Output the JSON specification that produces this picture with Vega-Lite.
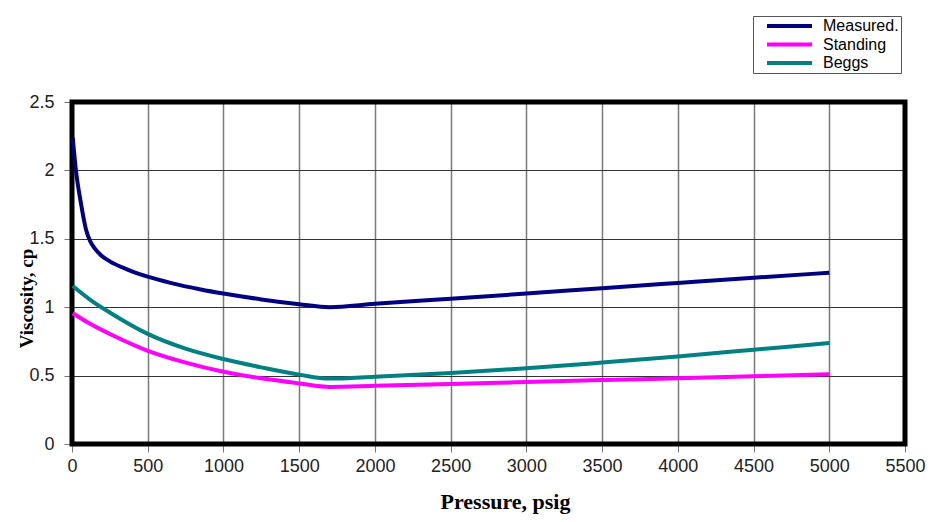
{
  "$schema": "https://vega.github.io/schema/vega-lite/v6.json",
  "width": 833,
  "height": 342,
  "autosize": {"type": "none"},
  "padding": {"left": 72, "top": 102, "right": 30, "bottom": 78},
  "background": "white",
  "config": {
    "view": {"stroke": null},
    "axis": {
      "labelFont": "Liberation Sans",
      "labelFontSize": 18,
      "labelColor": "#222222",
      "titleFont": "Liberation Serif",
      "titleFontWeight": "bold",
      "titleColor": "#000000",
      "domain": false,
      "tickColor": "#777777",
      "tickSize": 8,
      "tickWidth": 1
    }
  },
  "layer": [
    {
      "data": {"values": [{"x0": 0, "x1": 5500, "y0": 0, "y1": 2.5}]},
      "mark": {"type": "rect", "fill": null, "stroke": "#000000", "strokeWidth": 5},
      "encoding": {
        "x": {"field": "x0", "type": "quantitative"},
        "x2": {"field": "x1"},
        "y": {"field": "y0", "type": "quantitative"},
        "y2": {"field": "y1"}
      }
    },
    {
      "data": {
        "values": [
          {"pressure": 5, "viscosity": 2.24, "series": "Measured."},
          {"pressure": 26, "viscosity": 2.0, "series": "Measured."},
          {"pressure": 59, "viscosity": 1.76, "series": "Measured."},
          {"pressure": 92, "viscosity": 1.57, "series": "Measured."},
          {"pressure": 121, "viscosity": 1.48, "series": "Measured."},
          {"pressure": 150, "viscosity": 1.43, "series": "Measured."},
          {"pressure": 191, "viscosity": 1.38, "series": "Measured."},
          {"pressure": 250, "viscosity": 1.335, "series": "Measured."},
          {"pressure": 367, "viscosity": 1.275, "series": "Measured."},
          {"pressure": 500, "viscosity": 1.223, "series": "Measured."},
          {"pressure": 650, "viscosity": 1.178, "series": "Measured."},
          {"pressure": 850, "viscosity": 1.13, "series": "Measured."},
          {"pressure": 1000, "viscosity": 1.1, "series": "Measured."},
          {"pressure": 1250, "viscosity": 1.057, "series": "Measured."},
          {"pressure": 1500, "viscosity": 1.022, "series": "Measured."},
          {"pressure": 1700, "viscosity": 1.0, "series": "Measured."},
          {"pressure": 2000, "viscosity": 1.025, "series": "Measured."},
          {"pressure": 2500, "viscosity": 1.062, "series": "Measured."},
          {"pressure": 3000, "viscosity": 1.1, "series": "Measured."},
          {"pressure": 3500, "viscosity": 1.139, "series": "Measured."},
          {"pressure": 4000, "viscosity": 1.177, "series": "Measured."},
          {"pressure": 4500, "viscosity": 1.215, "series": "Measured."},
          {"pressure": 5000, "viscosity": 1.252, "series": "Measured."},
          {"pressure": 5, "viscosity": 0.956, "series": "Standing"},
          {"pressure": 125, "viscosity": 0.875, "series": "Standing"},
          {"pressure": 257, "viscosity": 0.8, "series": "Standing"},
          {"pressure": 500, "viscosity": 0.681, "series": "Standing"},
          {"pressure": 750, "viscosity": 0.595, "series": "Standing"},
          {"pressure": 1000, "viscosity": 0.528, "series": "Standing"},
          {"pressure": 1250, "viscosity": 0.48, "series": "Standing"},
          {"pressure": 1500, "viscosity": 0.443, "series": "Standing"},
          {"pressure": 1700, "viscosity": 0.417, "series": "Standing"},
          {"pressure": 2000, "viscosity": 0.425, "series": "Standing"},
          {"pressure": 2500, "viscosity": 0.439, "series": "Standing"},
          {"pressure": 3000, "viscosity": 0.453, "series": "Standing"},
          {"pressure": 3500, "viscosity": 0.467, "series": "Standing"},
          {"pressure": 4000, "viscosity": 0.481, "series": "Standing"},
          {"pressure": 4500, "viscosity": 0.495, "series": "Standing"},
          {"pressure": 5000, "viscosity": 0.509, "series": "Standing"},
          {"pressure": 5, "viscosity": 1.155, "series": "Beggs"},
          {"pressure": 125, "viscosity": 1.05, "series": "Beggs"},
          {"pressure": 257, "viscosity": 0.956, "series": "Beggs"},
          {"pressure": 500, "viscosity": 0.805, "series": "Beggs"},
          {"pressure": 750, "viscosity": 0.697, "series": "Beggs"},
          {"pressure": 1000, "viscosity": 0.621, "series": "Beggs"},
          {"pressure": 1250, "viscosity": 0.56, "series": "Beggs"},
          {"pressure": 1500, "viscosity": 0.507, "series": "Beggs"},
          {"pressure": 1700, "viscosity": 0.478, "series": "Beggs"},
          {"pressure": 2000, "viscosity": 0.492, "series": "Beggs"},
          {"pressure": 2500, "viscosity": 0.519, "series": "Beggs"},
          {"pressure": 3000, "viscosity": 0.553, "series": "Beggs"},
          {"pressure": 3500, "viscosity": 0.595, "series": "Beggs"},
          {"pressure": 4000, "viscosity": 0.64, "series": "Beggs"},
          {"pressure": 4500, "viscosity": 0.689, "series": "Beggs"},
          {"pressure": 5000, "viscosity": 0.738, "series": "Beggs"}
        ]
      },
      "mark": {"type": "line", "strokeWidth": 4, "interpolate": "monotone"},
      "encoding": {
        "x": {
          "field": "pressure",
          "type": "quantitative",
          "scale": {"domain": [0, 5500], "nice": false},
          "axis": {
            "title": "Pressure, psig",
            "titleFontSize": 22,
            "titleX": 433,
            "titleY": 64,
            "titleAlign": "center",
            "titleBaseline": "alphabetic",
            "values": [0, 500, 1000, 1500, 2000, 2500, 3000, 3500, 4000, 4500, 5000, 5500],
            "format": "d",
            "labelPadding": 5,
            "labelFlush": false,
            "grid": true,
            "gridColor": "#7a7a7a",
            "gridWidth": 1.5
          }
        },
        "y": {
          "field": "viscosity",
          "type": "quantitative",
          "scale": {"domain": [0, 2.5], "nice": false},
          "axis": {
            "title": "Viscosity, cp",
            "titleFontSize": 19,
            "titleAngle": -90,
            "titleX": -46,
            "titleY": 196,
            "titleAlign": "center",
            "titleBaseline": "middle",
            "values": [0, 0.5, 1, 1.5, 2, 2.5],
            "format": "~g",
            "labelPadding": 10,
            "labelFlush": false,
            "grid": true,
            "gridColor": "#333333",
            "gridWidth": 1
          }
        },
        "color": {
          "field": "series",
          "type": "nominal",
          "sort": ["Measured.", "Standing", "Beggs"],
          "scale": {"domain": ["Measured.", "Standing", "Beggs"], "range": ["#000080", "#FF00FF", "#008080"]},
          "legend": {
            "title": null,
            "orient": "none",
            "legendX": 681,
            "legendY": -86,
            "symbolType": "stroke",
            "symbolSize": 2025,
            "symbolStrokeWidth": 4,
            "symbolOffset": 10,
            "labelOffset": 9,
            "labelFont": "Liberation Sans",
            "labelFontSize": 16,
            "labelColor": "#000000",
            "clipHeight": 16,
            "rowPadding": 2.5,
            "padding": 2,
            "strokeColor": "#555555",
            "fillColor": "#ffffff"
          }
        }
      }
    }
  ]
}
